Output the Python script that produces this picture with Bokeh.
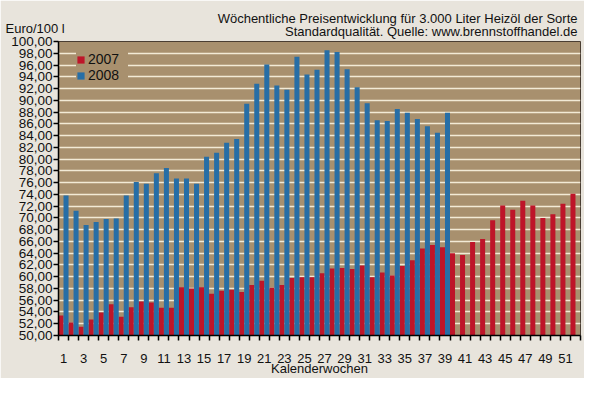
from bokeh.plotting import figure
from bokeh.models import (Range1d, FixedTicker, Label, Legend, LegendItem,
                          ColumnDataSource, Title)
from bokeh.transform import dodge
from bokeh.embed import file_html
from bokeh.resources import INLINE

# ---- data -------------------------------------------------------------
weeks_2007 = list(range(1, 53))
price_2007 = [53.4, 52.2, 51.5, 52.7, 53.9, 55.3, 53.2, 54.8, 55.8, 55.6,
              54.7, 54.7, 58.2, 58.0, 58.2, 57.1, 57.6, 57.8, 57.4, 58.6,
              59.3, 58.1, 58.6, 59.8, 59.9, 59.9, 60.6, 61.4, 61.5, 61.3,
              61.9, 59.9, 60.7, 60.2, 61.8, 62.8, 64.8, 65.4, 65.0, 64.0,
              63.7, 65.9, 66.4, 69.6, 72.1, 71.4, 72.9, 72.1, 70.0, 70.6,
              72.4, 74.1]
weeks_2008 = list(range(1, 40))
price_2008 = [73.8, 71.2, 68.8, 69.3, 69.8, 69.9, 73.8, 76.1, 75.8, 77.6,
              78.5, 76.7, 76.7, 75.8, 80.4, 81.1, 82.8, 83.4, 89.4, 92.8,
              96.1, 92.5, 91.8, 97.4, 94.4, 95.2, 98.5, 98.2, 95.3, 92.2,
              89.5, 86.6, 86.5, 88.5, 87.9, 86.8, 85.6, 84.5, 87.9]
series_labels = ["2007", "2008"]
y_ticks = list(range(50, 101, 2))
y_tick_labels = [f"{t},00" for t in y_ticks]
x_tick_weeks = list(range(1, 52, 2))
week_edges = [w + 0.5 for w in range(0, 53)]

title_line1 = "Wöchentliche Preisentwicklung für 3.000 Liter Heizöl der Sorte"
title_line2 = "Standardqualität. Quelle: www.brennstoffhandel.de"
y_title = "Euro/100 l"
x_title = "Kalenderwochen"

# ---- style ------------------------------------------------------------
FONT = "Liberation Sans"
BG = "#e8e4dc"
TAN = "#a8906e"
GRID = "#f2ead6"
RED = "#be1529"
BLUE = "#276ea6"
TXT = "#111111"

p = figure(width=584, height=378,
           x_range=Range1d(0.5, 52.5), y_range=Range1d(50, 100),
           output_backend="svg", toolbar_location=None,
           min_border_left=58, min_border_right=4,
           min_border_top=41, min_border_bottom=38,
           background_fill_color=TAN, border_fill_color=BG)
p.outline_line_color = "#4a3e32"
p.outline_line_width = 1

src07 = ColumnDataSource(dict(week=weeks_2007, price=price_2007))
src08 = ColumnDataSource(dict(week=weeks_2008, price=price_2008))
r07 = p.vbar(x=dodge("week", -0.25), top="price", bottom=50, width=0.5,
             fill_color=RED, line_color=None, source=src07)
r08 = p.vbar(x=dodge("week", 0.25), top="price", bottom=50, width=0.5,
             fill_color=BLUE, line_color=None, source=src08)

# x axis
xa = p.xaxis[0]
xa.ticker = FixedTicker(ticks=x_tick_weeks, minor_ticks=week_edges)
xa.major_tick_out = 0
xa.major_tick_in = 0
xa.minor_tick_out = 5
xa.minor_tick_in = 0
xa.minor_tick_line_color = "black"
xa.minor_tick_line_width = 1.5
xa.axis_line_color = "black"
xa.axis_line_width = 1.5
xa.major_label_standoff = 13
xa.major_label_text_font = FONT
xa.major_label_text_font_size = "13px"
xa.major_label_text_color = TXT
xa.axis_label = x_title
xa.axis_label_text_font = FONT
xa.axis_label_text_font_size = "13px"
xa.axis_label_text_font_style = "normal"
xa.axis_label_text_color = TXT
xa.axis_label_standoff = -5

# y axis
ya = p.yaxis[0]
ya.ticker = FixedTicker(ticks=y_ticks)
ya.major_label_overrides = dict(zip(y_ticks, y_tick_labels))
ya.major_tick_out = 5
ya.major_tick_in = 0
ya.major_tick_line_color = "black"
ya.major_tick_line_width = 1.5
ya.minor_tick_out = 0
ya.minor_tick_in = 0
ya.axis_line_color = "black"
ya.axis_line_width = 1.5
ya.major_label_standoff = 1
ya.major_label_text_font = FONT
ya.major_label_text_font_size = "13.5px"
ya.major_label_text_color = TXT

p.xgrid.visible = False
p.ygrid.grid_line_color = GRID
p.ygrid.grid_line_width = 1.5

legend = Legend(items=[LegendItem(label=series_labels[0], renderers=[r07]),
                       LegendItem(label=series_labels[1], renderers=[r08])],
                location=(18, 252), padding=8, spacing=-4, margin=0,
                glyph_width=9, glyph_height=9, label_height=10,
                label_width=40, label_standoff=3,
                label_text_font=FONT, label_text_font_size="14px",
                label_text_color=TXT,
                background_fill_color=TAN, background_fill_alpha=1.0,
                border_line_color=None)
p.add_layout(legend)

# band above the frame (first added = closest to the frame)
p.add_layout(Title(text=title_line2, align="right", vertical_align="top",
                   standoff=1, offset=3,
                   text_font=FONT, text_font_size="13px",
                   text_font_style="normal", text_color=TXT), "above")
p.add_layout(Title(text=title_line1, align="right", vertical_align="top",
                   standoff=-9, offset=3,
                   text_font=FONT, text_font_size="13px",
                   text_font_style="normal", text_color=TXT), "above")
p.add_layout(Label(x=-53, y=-13, x_units="screen", y_units="screen",
                   text=y_title, text_align="left", text_baseline="middle",
                   text_font=FONT, text_font_size="13px", text_color=TXT),
             "above")

open("out.html", "w").write(file_html(p, INLINE))
